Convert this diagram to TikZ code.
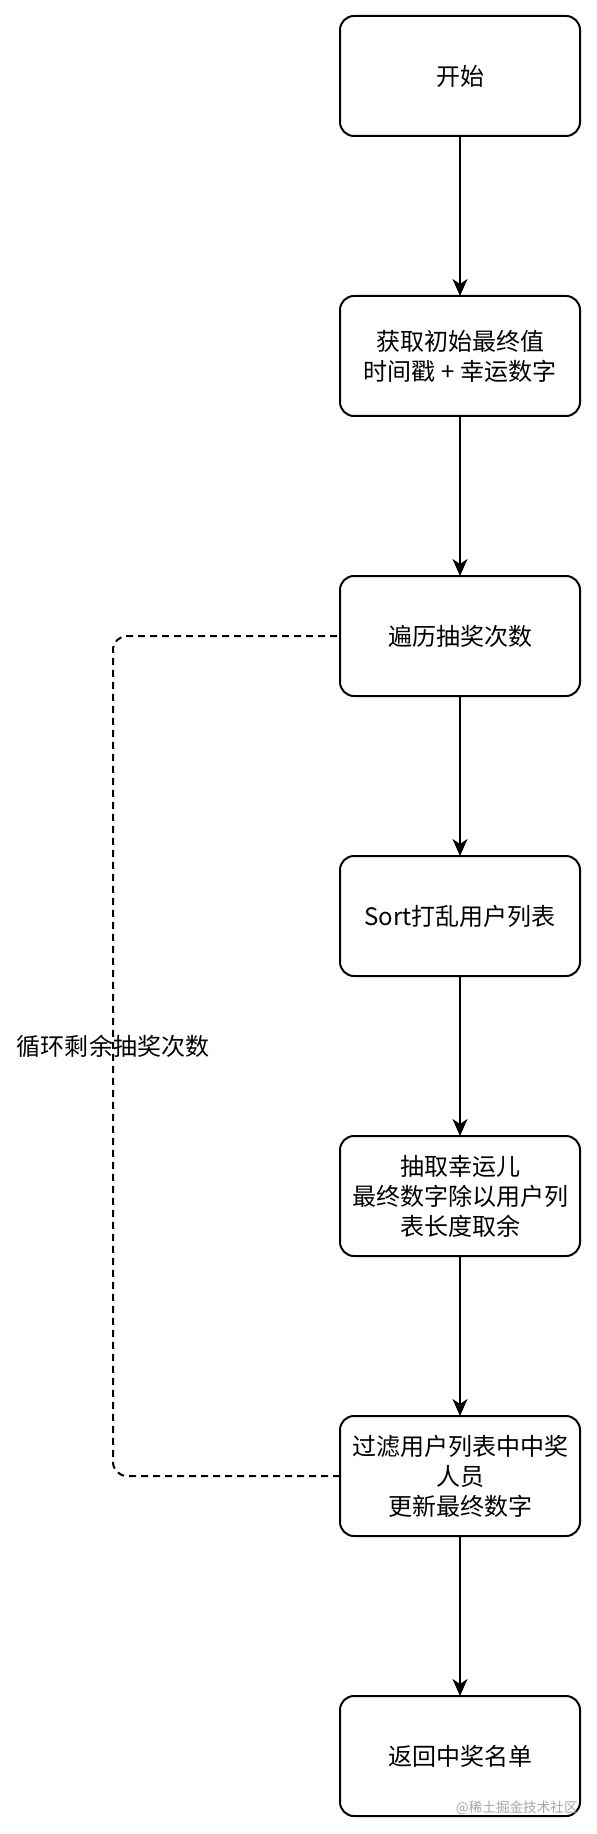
\documentclass[tikz,border=0pt]{standalone}
\usepackage{fontspec}
\newfontfamily\cjk{Noto Sans CJK SC}
\usetikzlibrary{positioning, arrows.meta}

\begin{document}
\begin{tikzpicture}[
                    % GLOBAL CFG
                    font=\cjk\fontsize{12}{15}\selectfont,
                    >={Stealth[length=8.5pt, width=7.5pt, inset=2.5pt]},
                    node distance=80pt,
                    % Styles
                    stepbox/.style={% For the process boxes
                            rectangle,
                            rounded corners=7pt,
                            draw,
                            line width=1pt,
                            minimum width=120pt,
                            minimum height=60pt,
                            outer sep=0pt,
                            align=center,
                        },
                    flow/.style={% Arrows between the boxes
                            ->,
                            line width=1pt,
                        },
                    loopline/.style={% The dashed loop back
                            line width=1pt,
                            dash pattern=on 3.5pt off 2.5pt,
                            rounded corners=7pt,
                        },
                    mylabel/.style={% text for the loop
                            font=\cjk\fontsize{12}{15}\selectfont
                        },
                ]

                % Fix the page
                \useasboundingbox (0,0) rectangle (298.5pt,-917pt);

                % Draw the boxes, top to bottom
                \node [stepbox] (start) at (230pt,-38pt) {开始};
                \node [stepbox, below=of start] (init) {获取初始最终值\\时间戳 + 幸运数字};
                \node [stepbox, below=of init] (loop) {遍历抽奖次数};
                \node [stepbox, below=of loop] (shuffle) {Sort打乱用户列表};
                \node [stepbox, below=of shuffle] (pick) {抽取幸运儿\\最终数字除以用户列\\表长度取余};
                \node [stepbox, below=of pick] (filter) {过滤用户列表中中奖\\人员\\更新最终数字};
                \node [stepbox, below=of filter] (result) {返回中奖名单};

                % Connecting all
                \draw [flow] (start) -- (init);
                \draw [flow] (init) -- (loop);
                \draw [flow] (loop) -- (shuffle);
                \draw [flow] (shuffle) -- (pick);
                \draw [flow] (pick) -- (filter);
                \draw [flow] (filter) -- (result);

                % Loop back, dashed
                \coordinate (bend) at (56.5pt,0);
                \draw [loopline] (filter.west) -| (bend |- loop.west) -- (loop.west);
                \node [mylabel] (looptext) at (56.5pt,-523pt) {循环剩余抽奖次数};

                % Watermark
                \node [font=\cjk\fontsize{6.8}{8}\selectfont, text=black!35, anchor=east, inner sep=0pt] (wm) at (289pt,-904pt) {@稀土掘金技术社区};

            \end{tikzpicture}
\end{document}
